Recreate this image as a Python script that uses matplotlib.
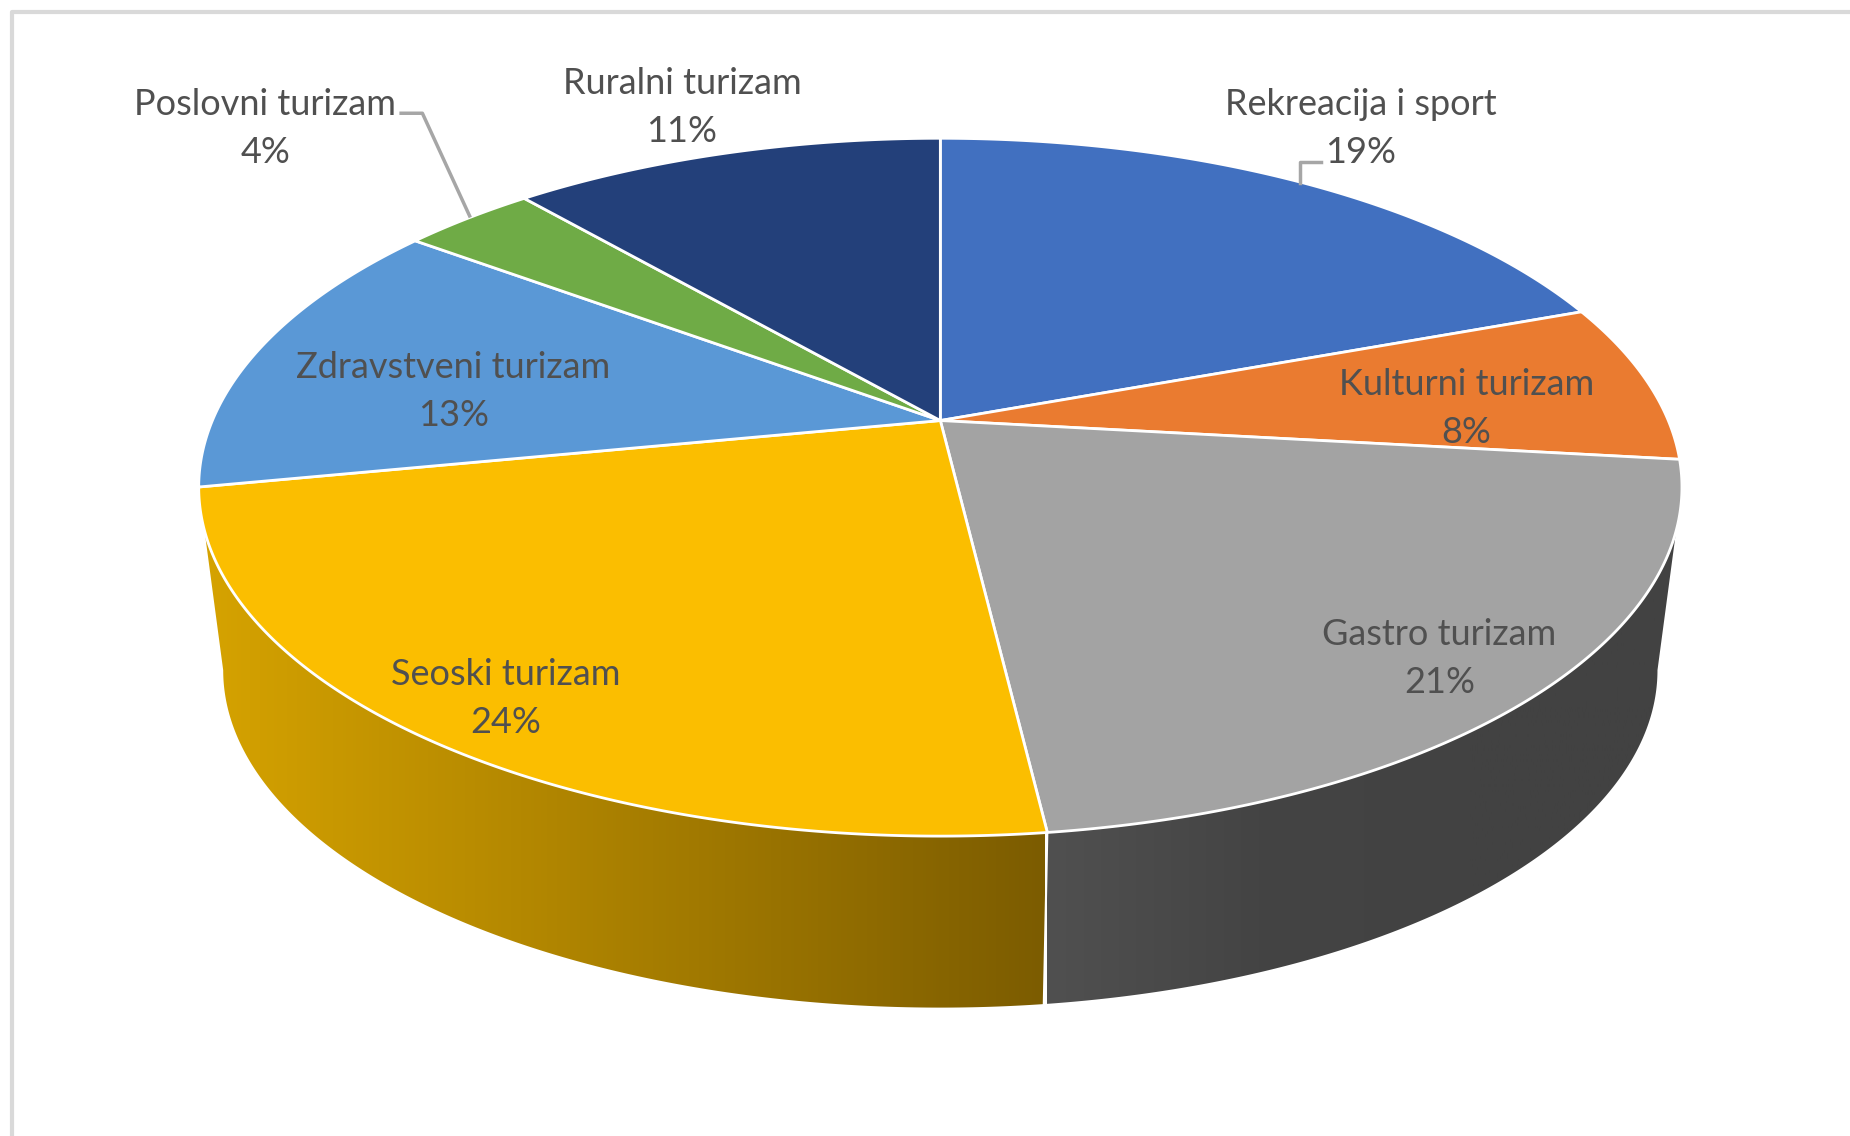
import matplotlib
matplotlib.use("Agg")
import matplotlib.pyplot as plt
import numpy as np
from matplotlib.colors import LinearSegmentedColormap
from matplotlib.patches import Polygon

categories = ["Rekreacija i sport", "Kulturni turizam", "Gastro turizam", "Seoski turizam",
              "Zdravstveni turizam", "Poslovni turizam", "Ruralni turizam"]
# shares as measured from the slices, the printed labels are rounded
shares = [19.4, 7.4, 21.3, 23.85, 13.2, 3.5, 11.35]
pct_labels = ["19%", "8%", "21%", "24%", "13%", "4%", "11%"]
colors = ["#4170c0", "#ea7b30", "#a3a3a3", "#fbbe00", "#5a98d6", "#6fab46", "#23407a"]
label_pos = [(1153, 109), (1243, 346), (1220, 558), (429, 592), (384, 332), (225, 109), (578, 91)]

W, H = 1568, 963
CX, CY = 797, 356.5
A, B, K = 617, 285, 0.191
DROP, SHRINK = 157, 0.967


def project(theta, radius=1.0, lower=False):
    # theta clockwise from 12 o'clock, tilted circle seen in perspective
    x = radius * np.sin(theta)
    y = radius * np.cos(theta)
    w = 1 + K * y
    px, py = A * x / w, B * y / w
    if lower:
        return CX + SHRINK * px, CY + DROP - SHRINK * py
    return CX + px, CY - py


def side_poly(t0, t1):
    t = np.linspace(t0, t1, 200)
    xt, yt = project(t)
    xb, yb = project(t[::-1], lower=True)
    return np.column_stack([np.r_[xt, xb], np.r_[yt, yb]])


def main():
    fig = plt.figure(figsize=(18.5, 11.36), dpi=100)
    ax = fig.add_axes([0, 0, 1, 1])
    ax.set_xlim(0, W)
    ax.set_ylim(H, 0)
    ax.axis("off")

    # frame of the original screenshot
    ax.plot([10, 10, W], [H, 10, 10], color="#d9d9d9", lw=3, zorder=1)

    edges = np.r_[0, np.cumsum(shares)] / sum(shares) * 2 * np.pi
    # widest point of the rim, the side wall starts there
    silhouette = np.arccos(-K)

    gold = LinearSegmentedColormap.from_list("gold", ["#d6a300", "#7c5c00"])
    grey = LinearSegmentedColormap.from_list("grey", ["#505050", "#444444", "#424242", "#424242"])
    grad = np.linspace(0, 1, 256).reshape(1, -1)
    walls = [(edges[3], min(edges[4], 2 * np.pi - silhouette), gold, 170, 885),
             (max(edges[2], silhouette), edges[3], grey, 887, 1425)]
    for t0, t1, cmap, x0, x1 in walls:
        poly = Polygon(side_poly(t0, t1), closed=True, fc="none", ec="none", transform=ax.transData)
        ax.add_patch(poly)
        im = ax.imshow(grad, cmap=cmap, extent=[x0, x1, 900, 300], aspect="auto", zorder=2)
        im.set_clip_path(poly)
    ax.set_xlim(0, W)
    ax.set_ylim(H, 0)

    # separator between the two walls
    x_t, y_t = project(edges[3])
    x_b, y_b = project(edges[3], lower=True)
    ax.plot([x_t, x_b], [y_t, y_b], color="white", lw=1.5, zorder=3)

    # top face
    for i, c in enumerate(colors):
        t = np.linspace(edges[i], edges[i + 1], 200)
        xs, ys = project(t)
        pts = np.column_stack([np.r_[CX, xs], np.r_[CY, ys]])
        ax.add_patch(Polygon(pts, closed=True, fc=c, ec="white", lw=2, joinstyle="round", zorder=4))

    # leader lines
    ax.plot([340, 358, 398], [96, 96, 183], color="#a6a6a6", lw=2.5, zorder=5)
    ax.plot([1120, 1102, 1102], [137, 137, 155], color="#a6a6a6", lw=2.5, zorder=5)

    for name, pct, (x, y) in zip(categories, pct_labels, label_pos):
        ax.text(x, y, name + "\n" + pct, ha="center", va="center", family="Lato", fontsize=26,
                color="#505050", linespacing=1.55, zorder=6)

    fig.savefig("out.png", dpi=100)


if __name__ == "__main__":
    main()
